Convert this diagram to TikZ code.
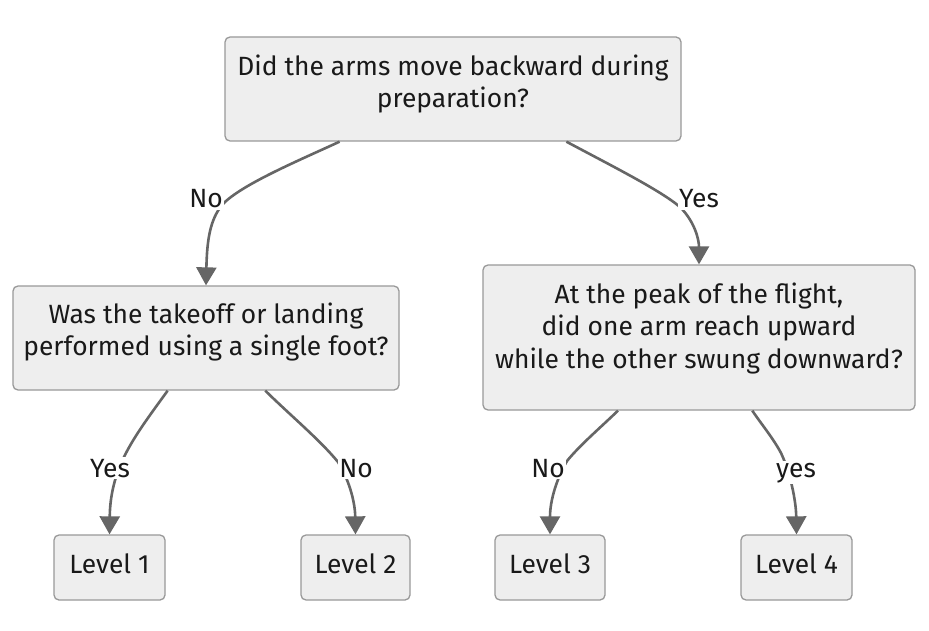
\documentclass[tikz,border=0pt]{standalone}
\usepackage{fontspec}
\setmainfont{Fira Sans}
\usetikzlibrary{arrows.meta,calc}
\definecolor{boxfill}{HTML}{EEEEEE}
\definecolor{boxline}{HTML}{999999}
\definecolor{edgecol}{HTML}{666666}
\begin{document}
\begin{tikzpicture}[x=1pt,y=-1pt,
  box/.style={draw=boxline, line width=1.3pt, fill=boxfill, rounded corners=5pt, inner sep=0pt},
  txt/.style={align=center, font=\fontsize{26.4}{32.8}\selectfont, text=black!90, inner sep=0pt},
  edge/.style={draw=edgecol, line width=2.6pt, -{Triangle[width=20pt,length=18pt]}},
  lbl/.style={fill=white, inner sep=1.5pt, anchor=base, font=\fontsize{26.4}{30}\selectfont, text=black!90}]
\useasboundingbox (0,0) rectangle (929,631);
\fill[white] (0,0) rectangle (929,631);
% nodes
\node[box, minimum width=456pt, minimum height=104pt,
  label={[txt,yshift=5pt]center:Did the arms move backward during\\preparation?}] (q1) at (453,89) {};
\node[box, minimum width=386pt, minimum height=104pt,
  label={[txt,yshift=6pt]center:Was the takeoff or landing\\performed using a single foot?}] (q2) at (206,338) {};
\node[box, minimum width=432pt, minimum height=145pt,
  label={[txt,yshift=9pt]center:At the peak of the flight,\\did one arm reach upward\\while the other swung downward?}] (q3) at (699,337.5) {};
\node[box, minimum width=111pt, minimum height=65pt,
  label={[txt,yshift=4pt]center:Level 1}] (l1) at (109.5,567.5) {};
\node[box, minimum width=109pt, minimum height=65pt,
  label={[txt,yshift=4pt]center:Level 2}] (l2) at (355.5,567.5) {};
\node[box, minimum width=110pt, minimum height=65pt,
  label={[txt,yshift=4pt]center:Level 3}] (l3) at (550,567.5) {};
\node[box, minimum width=111pt, minimum height=65pt,
  label={[txt,yshift=4pt]center:Level 4}] (l4) at (796.5,567.5) {};
% edges
\draw[edge] ($(q1.south west)!0.252!(q1.south east)$) .. controls (300,160) and (240,185) .. (222,205)
   .. controls (210,220) and (207,240) .. (q2.north);
\draw[edge] ($(q1.south west)!0.748!(q1.south east)$) .. controls (610,165) and (660,190) .. (680,207)
   .. controls (695,222) and (699,240) .. (q3.north);
\draw[edge] ($(q2.south west)!0.401!(q2.south east)$) .. controls (150,415) and (135,435) .. (125,455)
   .. controls (115,475) and (110,495) .. (l1.north);
\draw[edge] ($(q2.south west)!0.653!(q2.south east)$) .. controls (290,415) and (320,440) .. (338,462)
   .. controls (348,478) and (355,500) .. (l2.north);
\draw[edge] ($(q3.south west)!0.313!(q3.south east)$) .. controls (600,428) and (580,445) .. (567,461)
   .. controls (557,478) and (550,500) .. (l3.north);
\draw[edge] ($(q3.south west)!0.623!(q3.south east)$) .. controls (762,425) and (773,438) .. (781,453)
   .. controls (790,472) and (796,500) .. (l4.north);
% edge labels
\node[lbl] (e1) at (206,208) {No};
\node[lbl] (e2) at (699,208) {Yes};
\node[lbl] (e3) at (110,477) {Yes};
\node[lbl] (e4) at (356,477) {No};
\node[lbl] (e5) at (548,477) {No};
\node[lbl] (e6) at (796,477) {yes};
\end{tikzpicture}
\end{document}
